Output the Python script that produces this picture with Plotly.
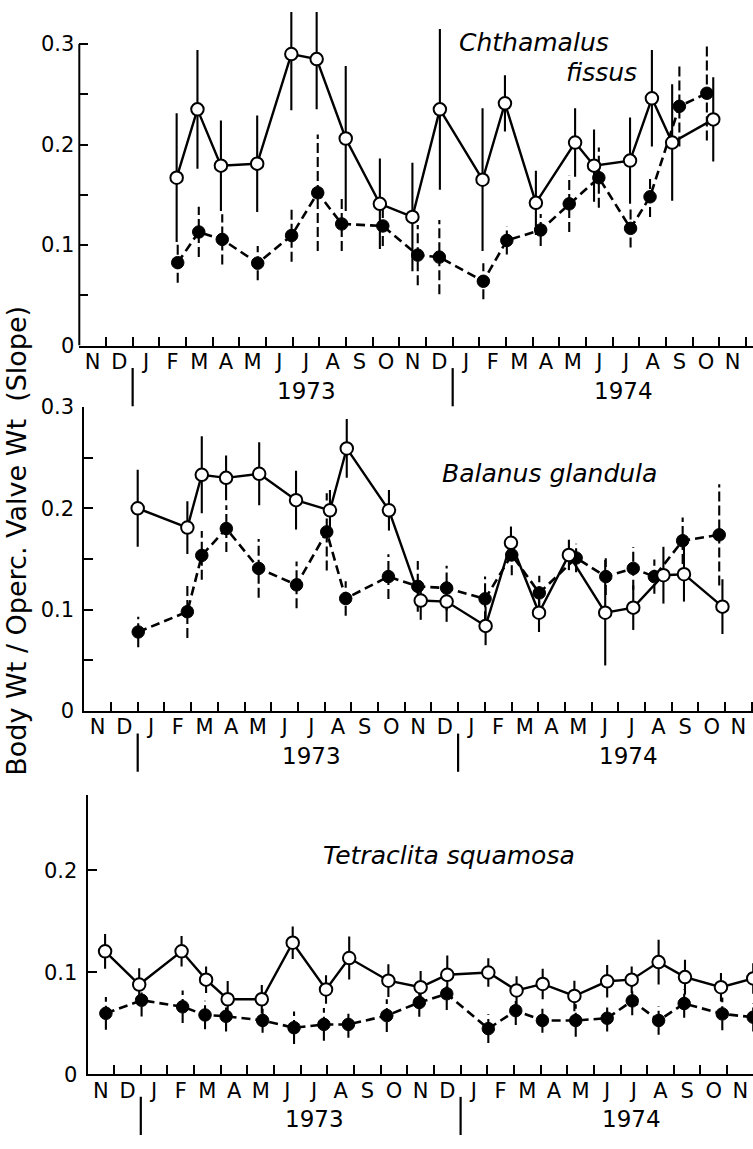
import plotly.graph_objects as go

# ---------------------------------------------------------------
# Month axis: 0 = 1 Nov 1972, one unit per month, labels mid-month
# ---------------------------------------------------------------
month_labels = ["N", "D", "J", "F", "M", "A", "M", "J", "J", "A", "S", "O",
                "N", "D", "J", "F", "M", "A", "M", "J", "J", "A", "S", "O", "N"]
year_labels = ["1973", "1974"]
year_starts = [2, 14]           # January of each year on the month axis
year_centres = [8.5, 20.4]

# ---------------- Chthamalus fissus ----------------
ch_open_x = [3.65, 4.43, 5.31, 6.67, 7.95, 8.90, 9.99, 11.27, 12.49, 13.52,
             15.12, 15.96, 17.12, 18.59, 19.30, 20.65, 21.47, 22.23, 23.77]
ch_open_y = [0.167, 0.235, 0.179, 0.181, 0.290, 0.285, 0.206, 0.141, 0.128, 0.235,
             0.165, 0.241, 0.142, 0.202, 0.179, 0.184, 0.246, 0.202, 0.225]
ch_open_err = [0.064, 0.059, 0.045, 0.048, 0.056, 0.050, 0.072, 0.045, 0.054, 0.080,
               0.071, 0.028, 0.032, 0.034, 0.036, 0.043, 0.048, 0.058, 0.042]
ch_fill_x = [3.69, 4.48, 5.36, 6.69, 7.96, 8.94, 9.84, 11.38, 12.69, 13.50,
             15.15, 16.03, 17.30, 18.37, 19.48, 20.67, 21.40, 22.50, 23.53]
ch_fill_y = [0.0825, 0.113, 0.1056, 0.082, 0.1095, 0.152, 0.121, 0.119, 0.090, 0.088,
             0.064, 0.1046, 0.115, 0.141, 0.167, 0.1166, 0.148, 0.238, 0.251]
ch_fill_err = [0.020, 0.025, 0.025, 0.017, 0.026, 0.058, 0.027, 0.020, 0.030, 0.037,
               0.018, 0.014, 0.016, 0.028, 0.030, 0.019, 0.020, 0.040, 0.047]

# ---------------- Balanus glandula ----------------
ba_open_x = [2.00, 3.86, 4.40, 5.31, 6.55, 7.93, 9.20, 9.83, 11.41, 12.60,
             13.57, 15.03, 15.98, 17.03, 18.15, 19.51, 20.56, 21.69, 22.46, 23.90]
ba_open_y = [0.200, 0.181, 0.233, 0.230, 0.234, 0.208, 0.198, 0.259, 0.198, 0.109,
             0.108, 0.084, 0.166, 0.097, 0.154, 0.097, 0.102, 0.134, 0.135, 0.103]
ba_open_err = [0.038, 0.026, 0.038, 0.022, 0.031, 0.029, 0.020, 0.029, 0.020, 0.019,
               0.020, 0.019, 0.016, 0.019, 0.015, 0.052, 0.022, 0.028, 0.027, 0.027]
ba_fill_x = [2.02, 3.86, 4.40, 5.32, 6.53, 7.95, 9.08, 9.79, 11.39, 12.49,
             13.57, 15.01, 16.01, 17.04, 18.42, 19.53, 20.56, 21.35, 22.41, 23.78]
ba_fill_y = [0.078, 0.098, 0.1535, 0.180, 0.1407, 0.1245, 0.1767, 0.111, 0.1326, 0.123,
             0.1213, 0.1107, 0.154, 0.1165, 0.151, 0.1326, 0.1407, 0.1326, 0.168, 0.1738]
ba_fill_err = [0.015, 0.026, 0.024, 0.023, 0.029, 0.023, 0.038, 0.017, 0.022, 0.025,
               0.022, 0.022, 0.020, 0.017, 0.014, 0.018, 0.021, 0.017, 0.023, 0.050]

# ---------------- Tetraclita squamosa ----------------
te_open_x = [0.66, 1.94, 3.53, 4.45, 5.26, 6.54, 7.70, 8.95, 9.82, 11.29, 12.50,
             13.50, 15.04, 16.10, 17.08, 18.27, 19.50, 20.42, 21.43, 22.42, 23.77, 24.98]
te_open_y = [0.1206, 0.088, 0.1206, 0.0928, 0.0736, 0.0736, 0.129, 0.0832, 0.114, 0.0918, 0.0854,
             0.0976, 0.0998, 0.0822, 0.0886, 0.0768, 0.0912, 0.0928, 0.110, 0.0953, 0.0854, 0.094]
te_open_err = [0.017, 0.016, 0.015, 0.013, 0.018, 0.014, 0.016, 0.014, 0.021, 0.016, 0.016,
               0.019, 0.014, 0.014, 0.015, 0.015, 0.016, 0.013, 0.022, 0.017, 0.014, 0.015]
te_fill_x = [0.69, 2.03, 3.57, 4.41, 5.20, 6.57, 7.75, 8.87, 9.79, 11.23, 12.45,
             13.48, 15.04, 16.07, 17.07, 18.32, 19.50, 20.44, 21.43, 22.39, 23.82, 24.98]
te_fill_y = [0.0598, 0.0726, 0.0662, 0.0582, 0.0569, 0.0528, 0.0457, 0.0489, 0.0489, 0.0576, 0.0704,
             0.079, 0.0448, 0.0624, 0.0528, 0.0528, 0.055, 0.072, 0.0528, 0.0694, 0.0592, 0.056]
te_fill_err = [0.016, 0.016, 0.016, 0.014, 0.015, 0.012, 0.016, 0.016, 0.013, 0.016, 0.014,
               0.016, 0.014, 0.014, 0.012, 0.016, 0.013, 0.014, 0.014, 0.014, 0.016, 0.014]

W, H = 753, 1149
FONT = "DejaVu Sans"
INK = "black"

# panel frame in pixels: origin x, px per month, origin y, px per unit, top pixel, axis top value
panels = [
    dict(name="Chthamalus fissus", x0=79.3, ppm=26.67, y0=340.7, ppv=1026.7, top=0.0, ytop=0.3,
         yticks=[0, 0.1, 0.2, 0.3], minor=True,
         open=(ch_open_x, ch_open_y, ch_open_err), fill=(ch_fill_x, ch_fill_y, ch_fill_err)),
    dict(name="Balanus glandula", x0=84.3, ppm=26.7, y0=714.0, ppv=1035.7, top=403.3, ytop=0.3,
         yticks=[0, 0.1, 0.2, 0.3], minor=True,
         open=(ba_open_x, ba_open_y, ba_open_err), fill=(ba_fill_x, ba_fill_y, ba_fill_err)),
    dict(name="Tetraclita squamosa", x0=87.5, ppm=26.65, y0=1085.0, ppv=1042.0, top=800.0, ytop=None,
         yticks=[0, 0.1, 0.2], minor=False,
         open=(te_open_x, te_open_y, te_open_err), fill=(te_fill_x, te_fill_y, te_fill_err)),
]


def bar_segments(xs, ys, es):
    sx, sy = [], []
    for x, y, e in zip(xs, ys, es):
        sx += [x, x, None]
        sy += [y - e, y + e, None]
    return sx, sy


def fmt(v):
    return "0" if v == 0 else f"{v:.1f}"


fig = go.Figure()
layout = dict(width=W, height=H, margin=dict(l=0, r=0, t=0, b=0),
              paper_bgcolor="white", plot_bgcolor="white", showlegend=False,
              font=dict(family=FONT, color=INK, size=21))
shapes, annotations = [], []

for i, p in enumerate(panels):
    k = "" if i == 0 else str(i + 1)
    xa, ya = "x" + k, "y" + k
    xmax = (W - p["x0"]) / p["ppm"]
    ymax = (p["y0"] - p["top"]) / p["ppv"]

    layout["xaxis" + k] = dict(
        domain=[p["x0"] / W, 1], range=[0, xmax], anchor=ya,
        showgrid=False, zeroline=False, showline=True, linecolor=INK, linewidth=2,
        tickmode="array", tickvals=[m + 0.5 for m in range(len(month_labels))],
        ticktext=month_labels, ticks="", ticklabelstandoff=-4,
        tickfont=dict(size=21, family=FONT, color=INK),
        minor=dict(tickmode="array", tickvals=list(range(1, len(month_labels) + 1)),
                   ticks="inside", ticklen=9, tickwidth=1.8, tickcolor=INK),
        fixedrange=True)
    yax = dict(
        domain=[1 - p["y0"] / H, 1 - p["top"] / H], range=[0, ymax], anchor=xa,
        showgrid=False, zeroline=False, showline=p["ytop"] is None or abs(ymax - p["ytop"]) < 1e-3,
        linecolor=INK, linewidth=2,
        tickmode="array", tickvals=p["yticks"], ticktext=[fmt(v) for v in p["yticks"]],
        ticks="inside", ticklen=9, tickwidth=1.8, tickcolor=INK, ticklabelstandoff=4,
        tickfont=dict(size=21, family=FONT, color=INK), fixedrange=True)
    if p["minor"]:
        yax["minor"] = dict(tickmode="array", tickvals=[0.05, 0.15, 0.25],
                            ticks="inside", ticklen=9, tickwidth=1.8, tickcolor=INK)
    layout["yaxis" + k] = yax

    # y axis line that stops at the last labelled tick
    if not yax["showline"]:
        shapes.append(dict(type="line", xref=xa + " domain", yref=ya, x0=0, x1=0,
                           y0=0, y1=p["ytop"], line=dict(color=INK, width=2)))

    # year dividers below the month labels
    for ys in year_starts:
        shapes.append(dict(type="line", xref=xa, yref="paper", x0=ys, x1=ys,
                           y0=1 - (p["y0"] + 62) / H, y1=1 - (p["y0"] + 23) / H,
                           line=dict(color=INK, width=2.2)))
    for lab, xc in zip(year_labels, year_centres):
        annotations.append(dict(text=lab, xref=xa, yref="paper", x=xc, y=1 - (p["y0"] + 46) / H,
                                showarrow=False, xanchor="center", yanchor="middle",
                                font=dict(size=23, family=FONT, color=INK)))

    ox, oy, oe = p["open"]
    fx, fy, fe = p["fill"]

    sx, sy = bar_segments(ox, oy, oe)
    fig.add_trace(go.Scatter(x=sx, y=sy, mode="lines", xaxis=xa, yaxis=ya,
                             line=dict(color=INK, width=2.1), hoverinfo="skip"))
    sx, sy = bar_segments(fx, fy, fe)
    fig.add_trace(go.Scatter(x=sx, y=sy, mode="lines", xaxis=xa, yaxis=ya,
                             line=dict(color=INK, width=2.1, dash="10px,4px"), hoverinfo="skip"))

    fig.add_trace(go.Scatter(x=fx, y=fy, mode="lines+markers", xaxis=xa, yaxis=ya,
                             line=dict(color=INK, width=2.6, dash="9px,5px"),
                             marker=dict(symbol="circle", size=12.5, color=INK,
                                         line=dict(color=INK, width=1))))
    fig.add_trace(go.Scatter(x=ox, y=oy, mode="lines+markers", xaxis=xa, yaxis=ya,
                             line=dict(color=INK, width=2.4),
                             marker=dict(symbol="circle", size=12.5, color="white",
                                         line=dict(color=INK, width=2))))

# species names
species_text = [
    ("Chthamalus", 534, 31), ("fissus", 601, 62),
    ("Balanus glandula", 549, 471),
    ("Tetraclita squamosa", 449, 861),
]
for txt, px, py in species_text:
    annotations.append(dict(text=txt, xref="paper", yref="paper", x=px / W, y=1 - py / H,
                            showarrow=False, xanchor="center", yanchor="middle",
                            font=dict(size=25, family=FONT, color=INK, style="italic")))

# shared y title
annotations.append(dict(text="Body Wt / Operc. Valve Wt  (Slope)", xref="paper", yref="paper",
                        x=17 / W, y=1 - 540 / H, textangle=-90, showarrow=False,
                        xanchor="center", yanchor="middle",
                        font=dict(size=27, family=FONT, color=INK)))

layout["shapes"] = shapes
layout["annotations"] = annotations
fig.update_layout(**layout)

fig.write_html("out.html")
